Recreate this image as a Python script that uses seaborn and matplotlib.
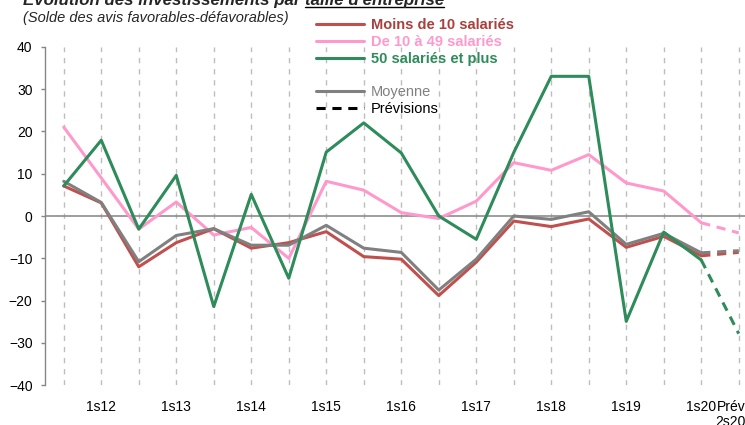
import numpy as np
import pandas as pd
import matplotlib
matplotlib.use("Agg")
import matplotlib.pyplot as plt
from matplotlib.lines import Line2D
import matplotlib.transforms as mtransforms
import seaborn as sns

# ---------------- data ----------------
categories = ['2s11', '1s12', '2s12', '1s13', '2s13', '1s14', '2s14', '1s15', '2s15',
              '1s16', '2s16', '1s17', '2s17', '1s18', '2s18', '1s19', '2s19', '1s20',
              'Prév\n2s20']
tick_labels = ['', '1s12', '', '1s13', '', '1s14', '', '1s15', '', '1s16', '', '1s17',
               '', '1s18', '', '1s19', '', '1s20', 'Prév\n2s20']

moins_10 = [7.1, 3.1, -12.0, -6.3, -3.0, -7.6, -6.3, -3.7, -9.6, -10.2, -18.8, -10.9,
            -1.2, -2.5, -0.7, -7.4, -4.8, -9.4, -8.6]
de_10_49 = [21.0, 9.0, -3.1, 3.3, -4.5, -2.7, -10.0, 8.2, 6.1, 0.8, -0.6, 3.5,
            12.6, 10.8, 14.5, 7.8, 5.9, -1.6, -4.0]
plus_50 = [7.1, 17.9, -3.1, 9.6, -21.4, 5.1, -14.7, 15.1, 22.0, 14.9, 0.0, -5.5,
           15.0, 33.0, 33.0, -24.9, -3.8, -10.4, -27.8]
moyenne = [8.2, 3.2, -10.8, -4.6, -3.0, -6.9, -6.9, -2.2, -7.6, -8.6, -17.5, -10.2,
           0.0, -0.8, 1.0, -6.7, -4.1, -8.7, -8.2]

series_names = ['Moins de 10 salariés', 'De 10 à 49 salariés', '50 salariés et plus', 'Moyenne']
series_values = [moins_10, de_10_49, plus_50, moyenne]
line_colors = ['#C0504D', '#FF99CC', '#2E8B5A', '#808080']
text_colors = ['#A8403D', '#FF99CC', '#2E8B5A', '#808080']
forecast_start = 17  # index of 1s20, last observed point

# ---------------- style ----------------
sns.set_theme(style="white")
plt.rcParams['font.family'] = ['Liberation Sans', 'DejaVu Sans']

fig = plt.figure(figsize=(7.45, 4.25), dpi=100)
W, H = 745.0, 425.0
ax = fig.add_axes([45 / W, 1 - 385.3 / H, 712.5 / W, (385.3 - 46.7) / H])

x = np.arange(len(categories))
frames = []
for name, vals in zip(series_names, series_values):
    frames.append(pd.DataFrame({'x': x, 'value': vals, 'serie': name}))
df = pd.concat(frames, ignore_index=True)

draw_order = ['De 10 à 49 salariés', 'Moins de 10 salariés', 'Moyenne', '50 salariés et plus']
for name in draw_order:
    i = series_names.index(name)
    sub = df[df['serie'] == name]
    obs = sub[sub['x'] <= forecast_start]
    prev = sub[sub['x'] >= forecast_start]
    sns.lineplot(data=obs, x='x', y='value', color=line_colors[i], lw=2.2, ax=ax,
                 legend=False, zorder=3)
    sns.lineplot(data=prev, x='x', y='value', color=line_colors[i], lw=2.2, ax=ax,
                 legend=False, zorder=3, linestyle=(0, (3.0, 2.2)))

ax.axhline(0, color='#8C8C8C', lw=1.2, zorder=2)

ax.set_xlim(-0.5, len(categories) - 0.5)
ax.set_ylim(-40, 40)
ax.set_yticks(np.arange(-40, 41, 10))
ax.set_xticks(x)
ax.set_xticklabels(tick_labels, fontsize=10, linespacing=1.1)
ax.tick_params(axis='x', length=0, pad=10.5, colors='black')
ax.tick_params(axis='y', length=3, width=1, color='#868686', labelsize=10, pad=6,
               left=True, labelcolor='black')
# the last (forecast) label sits slightly to the left of its slot, as in the source
last_lab = ax.get_xticklabels()[-1]
last_lab.set_transform(last_lab.get_transform() +
                       mtransforms.ScaledTranslation(-8 / 100, 0, fig.dpi_scale_trans))
ax.set_xlabel('')
ax.set_ylabel('')
ax.grid(axis='x', color='#BDBDBD', lw=1.0, linestyle=(0, (3.8, 4.2)))
ax.grid(axis='y', visible=False)
for s in ['top', 'right', 'bottom']:
    ax.spines[s].set_visible(False)
ax.spines['left'].set_color('#868686')
ax.spines['left'].set_linewidth(1.0)
ax.set_facecolor('white')

# ---------------- legend ----------------
handles = [Line2D([], [], color=line_colors[0], lw=2.2),
           Line2D([], [], color=line_colors[1], lw=2.2),
           Line2D([], [], color=line_colors[2], lw=2.2),
           Line2D([], [], color='none', lw=0),
           Line2D([], [], color=line_colors[3], lw=2.2),
           Line2D([], [], color='black', lw=2.2, linestyle=(0, (3.0, 2.2)))]
labels = series_names[:3] + [' ', series_names[3], 'Prévisions']
leg = fig.legend(handles, labels, loc='upper left', bbox_to_anchor=(316 / W, 1 - 18.3 / H),
                 frameon=False, fontsize=10.5, handlelength=3.3, handletextpad=0.45,
                 labelspacing=0.19, borderpad=0, borderaxespad=0)
tcols = text_colors[:3] + ['black', text_colors[3], 'black']
for t, c, k in zip(leg.get_texts(), tcols, range(6)):
    t.set_color(c)
    if k < 3:
        t.set_fontweight('bold')

# ---------------- titles ----------------
t1 = fig.text(22.7 / W, 1 - 5 / H, 'Evolution des investissements par ',
              fontsize=12.2, fontweight='bold', fontstyle='italic', va='baseline', ha='left')
t2 = fig.text(0, 1 - 5 / H, "taille d'entreprise", fontsize=12.2, fontweight='bold',
              fontstyle='italic', va='baseline', ha='left')
fig.canvas.draw()
r = fig.canvas.get_renderer()
bb1 = t1.get_window_extent(r)
t2.set_x(bb1.x1 / W)
fig.canvas.draw()
bb2 = t2.get_window_extent(r)
fig.add_artist(Line2D([bb2.x0 / W, bb2.x1 / W], [1 - 6.5 / H, 1 - 6.5 / H],
                      transform=fig.transFigure, color='black', lw=1.0))

fig.text(22.7 / W, 1 - 22 / H, '(Solde des avis favorables-défavorables)',
         fontsize=10.5, fontstyle='italic', va='baseline', ha='left')

fig.savefig('out.png', dpi=100, facecolor='white')
